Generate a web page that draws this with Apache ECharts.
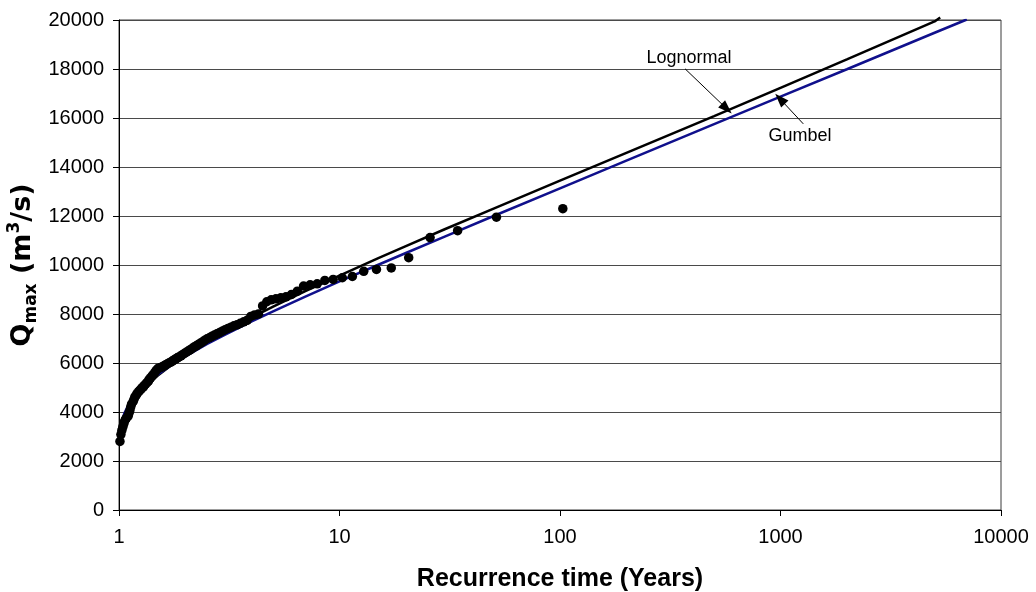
<!DOCTYPE html>
<html>
<head>
<meta charset="utf-8">
<script src="https://cdn.jsdelivr.net/npm/echarts@6/dist/echarts.min.js"></script>
<style>
  html, body { margin: 0; padding: 0; background: #ffffff; }
  #chart { width: 1036px; height: 592px; }
</style>
</head>
<body>
<div id="chart"></div>
<script>
// Observed annual peak discharges, ranked, with their recurrence times (years)
const returnPeriod = [
  103, 51.5, 34.33, 25.75, 20.6, 17.17, 14.71, 12.88, 11.44, 10.3,
  9.36, 8.58, 7.92, 7.36, 6.87, 6.44, 6.06, 5.72, 5.42, 5.15,
  4.9, 4.68, 4.48, 4.29, 4.12, 3.96, 3.81, 3.68, 3.55, 3.43,
  3.32, 3.22, 3.12, 3.03, 2.94, 2.86, 2.78, 2.71, 2.64, 2.58,
  2.51, 2.45, 2.4, 2.34, 2.29, 2.24, 2.19, 2.15, 2.1, 2.06,
  2.02, 1.98, 1.94, 1.91, 1.87, 1.84, 1.81, 1.78, 1.75, 1.72,
  1.69, 1.66, 1.63, 1.61, 1.58, 1.56, 1.54, 1.51, 1.49, 1.47,
  1.45, 1.43, 1.41, 1.39, 1.37, 1.36, 1.34, 1.32, 1.3, 1.29,
  1.27, 1.26, 1.24, 1.23, 1.21, 1.2, 1.18, 1.17, 1.16, 1.14,
  1.13, 1.12, 1.11, 1.1, 1.08, 1.07, 1.06, 1.05, 1.04, 1.03,
  1.02, 1.01
];
const peakFlow = [
  12300, 11950, 11400, 11120, 10300, 9880, 9820, 9740, 9530, 9480,
  9410, 9370, 9230, 9190, 9140, 8930, 8800, 8700, 8660, 8620,
  8580, 8500, 8330, 8000, 7960, 7900, 7740, 7680, 7620, 7560,
  7520, 7460, 7410, 7360, 7300, 7240, 7190, 7140, 7090, 7040,
  6990, 6930, 6870, 6810, 6760, 6700, 6650, 6600, 6540, 6490,
  6440, 6390, 6340, 6290, 6250, 6210, 6170, 6130, 6090, 6040,
  6010, 5970, 5930, 5890, 5860, 5830, 5810, 5790, 5740, 5680,
  5600, 5530, 5460, 5390, 5330, 5260, 5200, 5140, 5080, 5020,
  4990, 4930, 4880, 4830, 4770, 4700, 4620, 4520, 4430, 4320,
  4200, 4060, 3950, 3830, 3750, 3700, 3620, 3500, 3380, 3250,
  3080, 2800
];

// Fitted Lognormal distribution curve
const lognormalT = [1.005, 1.01, 1.03, 1.06, 1.1, 1.2, 1.35, 1.5, 1.75, 2, 2.5, 3, 4, 5, 7,
  10, 15, 20, 30, 50, 100, 200, 500, 1000, 2000, 5000, 5300];
const lognormalQ = [2730, 2960, 3410, 3780, 4090, 4610, 5120, 5490, 5950, 6310, 6850, 7260, 7860, 8300, 8930,
  9570, 10280, 10770, 11460, 12300, 13440, 14580, 16080, 17230, 18390, 19940, 20100];

// Fitted Gumbel distribution curve
const gumbelT = [1.003, 1.01, 1.03, 1.06, 1.1, 1.2, 1.35, 1.5, 1.75, 2, 2.5, 3, 4, 5, 7,
  10, 15, 20, 30, 50, 100, 200, 500, 1000, 2000, 5000, 7000];
const gumbelQ = [2830, 3200, 3630, 3970, 4260, 4740, 5190, 5530, 5950, 6270, 6770, 7140, 7700, 8110, 8710,
  9330, 10010, 10490, 11160, 12000, 13130, 14260, 15750, 16870, 17990, 19480, 20020];

// Axis ranges
const xTicks = [1, 10, 100, 1000, 10000];
const yMin = 0, yMax = 20000, yStep = 2000;

// Callout labels (data coordinates)
const lognormalNote = { text: 'Lognormal', at: [385, 18430], from: [369, 18010], to: [570, 16380] };
const gumbelNote = { text: 'Gumbel', at: [1226, 15265], from: [1269, 15760], to: [995, 16780] };

const FONT = 'Arial, "Liberation Sans", Helvetica, sans-serif';
const TITLE_FONT = '"DejaVu Sans", Arial, sans-serif';

const zip = (xs, ys) => xs.map((x, i) => [x, ys[i]]);

function callout(note) {
  return {
    markLine: {
      silent: true,
      symbol: ['none', 'triangle'],
      symbolSize: [10, 14],
      lineStyle: { color: '#000', width: 1, type: 'solid' },
      label: { show: false },
      emphasis: { disabled: true },
      data: [[{ coord: note.from }, { coord: note.to }]]
    },
    markPoint: {
      silent: true,
      symbol: 'circle',
      symbolSize: 1,
      itemStyle: { color: 'rgba(0,0,0,0)' },
      label: {
        show: true, position: 'inside', formatter: note.text,
        color: '#000', fontSize: 18, fontFamily: FONT
      },
      data: [{ coord: note.at }]
    }
  };
}

const chart = echarts.init(document.getElementById('chart'), null, { renderer: 'canvas' });

chart.setOption({
  animation: false,
  backgroundColor: '#ffffff',
  grid: {
    left: 119, right: 35, top: 20, bottom: 82,
    containLabel: false,
    outerBoundsMode: 'none',
    show: true, borderColor: '#3a3a3a', borderWidth: 1, backgroundColor: '#ffffff'
  },
  xAxis: {
    type: 'log',
    logBase: 10,
    min: xTicks[0],
    max: xTicks[xTicks.length - 1],
    name: 'Recurrence time (Years)',
    nameLocation: 'middle',
    nameGap: 57,
    nameMoveOverlap: false,
    nameTextStyle: { fontSize: 25, fontWeight: 'bold', color: '#000', fontFamily: FONT },
    axisLine: { show: true, onZero: false, lineStyle: { color: '#000', width: 1 } },
    axisTick: { show: true, inside: false, length: 6, lineStyle: { color: '#000' } },
    minorTick: { show: false },
    axisLabel: {
      color: '#000', fontSize: 20, fontFamily: FONT, margin: 17,
      formatter: v => String(Math.round(v))
    },
    splitLine: { show: false }
  },
  yAxis: {
    type: 'value',
    min: yMin, max: yMax, interval: yStep,
    name: '{q|Q}{sub|max}{q| (m}{sup|3}{q|/s)}',
    nameLocation: 'middle',
    nameRotate: 90,
    nameGap: 79,
    nameMoveOverlap: false,
    nameTextStyle: {
      rich: {
        q:   { fontSize: 27, fontWeight: 'bold', color: '#000', fontFamily: TITLE_FONT, lineHeight: 34 },
        sub: { fontSize: 17, fontWeight: 'bold', color: '#000', fontFamily: TITLE_FONT, lineHeight: 17, verticalAlign: 'bottom' },
        sup: { fontSize: 17, fontWeight: 'bold', color: '#000', fontFamily: TITLE_FONT, lineHeight: 17, verticalAlign: 'top' }
      }
    },
    axisLine: { show: true, lineStyle: { color: '#000', width: 1 } },
    axisTick: { show: true, inside: false, length: 6, lineStyle: { color: '#000' } },
    axisLabel: {
      color: '#000', fontSize: 20, fontFamily: FONT, margin: 15,
      formatter: v => String(v)
    },
    splitLine: { show: true, lineStyle: { color: '#4a4a4a', width: 1 } }
  },
  series: [
    Object.assign({
      name: 'Lognormal',
      type: 'line',
      data: zip(lognormalT, lognormalQ),
      showSymbol: false,
      clip: false,
      lineStyle: { color: '#000000', width: 2.5 },
      z: 2
    }, callout(lognormalNote)),
    Object.assign({
      name: 'Gumbel',
      type: 'line',
      data: zip(gumbelT, gumbelQ),
      showSymbol: false,
      lineStyle: { color: '#10108c', width: 2.5 },
      z: 3
    }, callout(gumbelNote)),
    {
      name: 'Observed',
      type: 'scatter',
      data: zip(returnPeriod, peakFlow),
      symbol: 'circle',
      symbolSize: 9.5,
      itemStyle: { color: '#000000', opacity: 1 },
      z: 4
    }
  ]
});
</script>
</body>
</html>
